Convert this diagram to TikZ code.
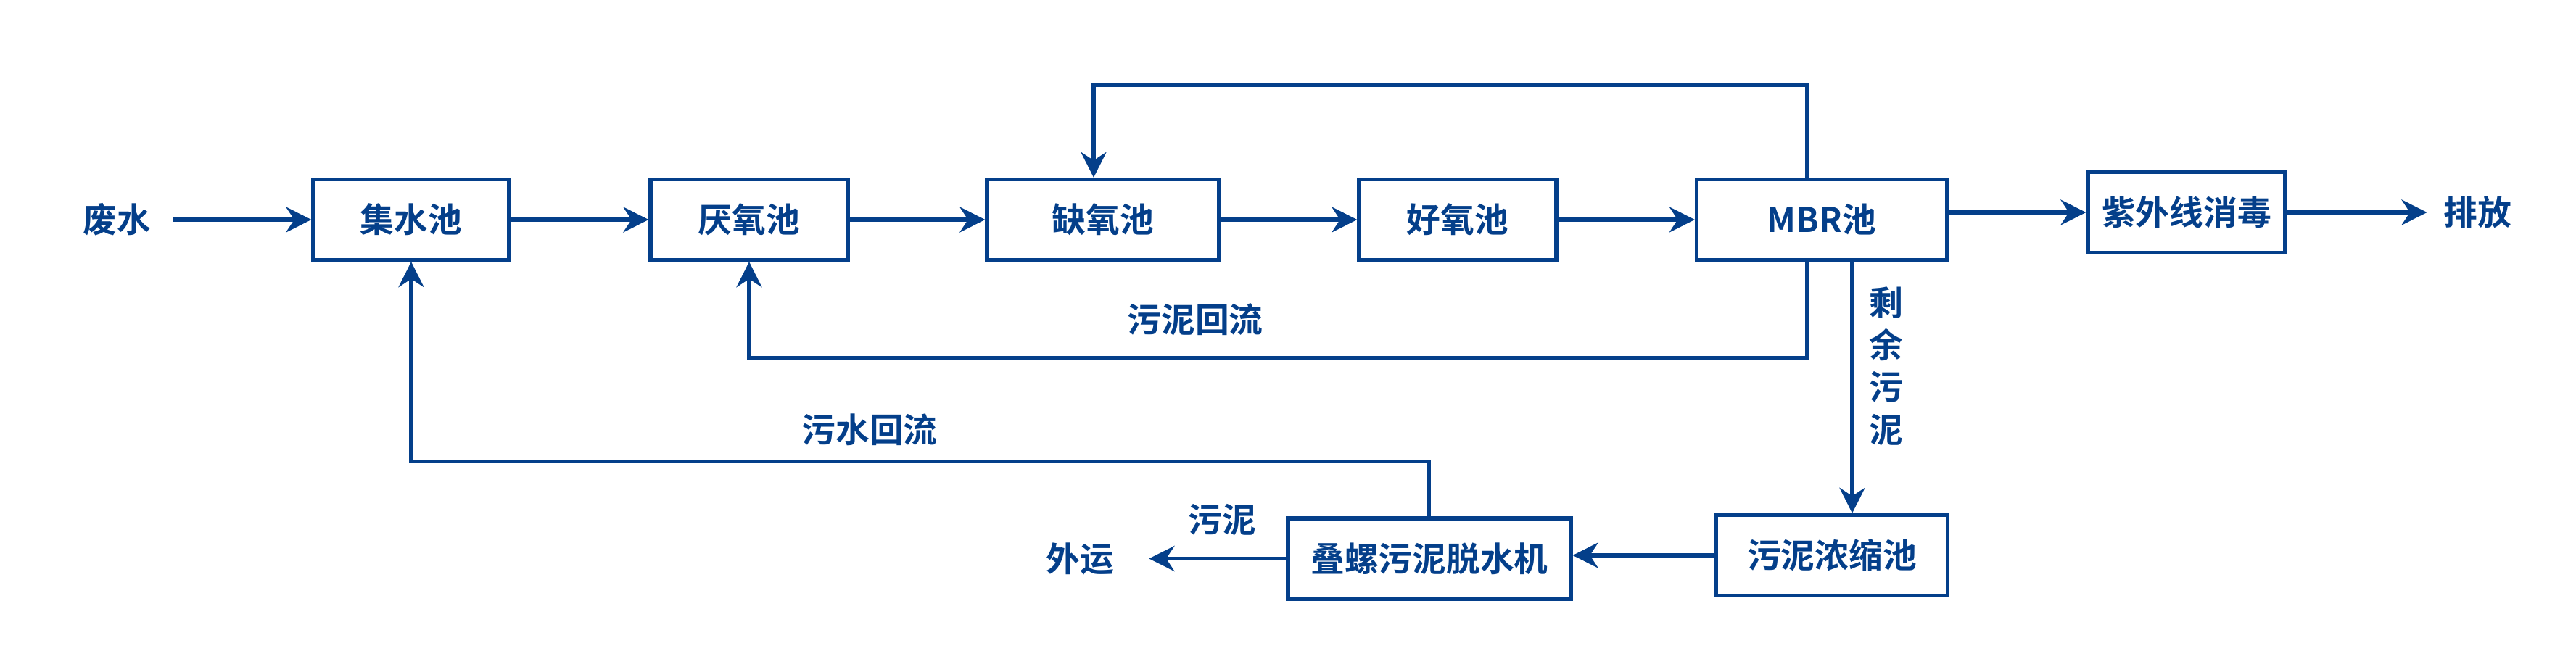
\documentclass[tikz,border=0pt]{standalone}
\usepackage{fontspec}
\setmainfont{Noto Sans CJK SC}[BoldFont={Noto Sans CJK SC Bold}]
\usepackage{tikz}
\usetikzlibrary{arrows.meta,positioning}
\usepackage{xcolor}
\definecolor{mbrblue}{RGB}{4,63,138}
\tikzstyle{tank} = [draw=mbrblue, line width=1.5pt, minimum height=1.11cm, text=mbrblue, font=\fontsize{13.3}{16}\selectfont\bfseries]
\tikzstyle{flowtext} = [inner sep=0pt, text=mbrblue, font=\fontsize{13.3}{16}\selectfont\bfseries]
\tikzstyle{arrow} = [line width=1.5pt, -{Stealth[length=3.5mm,width=3.5mm]}, color=mbrblue]

\begin{document}
\begin{tikzpicture}
\useasboundingbox (0,0) rectangle (35.52,9.08);

% Main line
\node[flowtext] (feishui) at (1.61,6.05) {废水};
\node[tank, minimum width=2.70cm] (jishui) at (5.67,6.05) {集水池};
\node[tank, minimum width=2.72cm] (yanyang) at (10.33,6.05) {厌氧池};
\node[tank, minimum width=3.20cm] (queyang) at (15.21,6.05) {缺氧池};
\node[tank, minimum width=2.72cm] (haoyang) at (20.10,6.05) {好氧池};
\node[tank, minimum width=3.45cm] (mbr) at (25.12,6.05) {MBR池};
\node[tank, minimum width=2.72cm] (uv) at (30.15,6.15) {紫外线消毒};
\node[flowtext] (paifang) at (34.16,6.15) {排放};

\draw[arrow] ([xshift=3mm]feishui.east) -- (jishui.west);
\draw[arrow] (jishui.east) -- (yanyang.west);
\draw[arrow] (yanyang.east) -- (queyang.west);
\draw[arrow] (queyang.east) -- (haoyang.west);
\draw[arrow] (haoyang.east) -- (mbr.west);
\draw[arrow] (uv.west -| mbr.east) -- (uv.west);
\draw[arrow] (uv.east) -- ([xshift=-2.2mm]paifang.west);

% Sludge line
\node[tank, minimum width=3.19cm] (thicken) at (25.26,1.42) {污泥浓缩池};
\node[tank, minimum width=3.90cm] (dewater) at (19.71,1.375) {叠螺污泥脱水机};
\node[flowtext] (waiyun) at (14.89,1.375) {外运};
\node[flowtext] (niout) at (16.85,1.91) {污泥};

\draw[arrow] ([xshift=4.2mm]mbr.south) -- ([xshift=4.2mm]mbr.south |- thicken.north);
\node[flowtext, align=center, font=\fontsize{13.3}{16.6}\selectfont\bfseries] (shengyu) at (26.01,4.03) {剩\\余\\污\\泥};
\draw[arrow] (thicken.west) -- (thicken.west -| dewater.east);
\draw[arrow] (dewater.west) -- ([xshift=4.8mm]waiyun.east);

% Return lines
\draw[arrow] ([xshift=-2mm]mbr.north) -- ++(0,1.275) -| ([xshift=-1.3mm]queyang.north);
\draw[arrow] ([xshift=-2mm]mbr.south) -- ++(0,-1.325) -| (yanyang.south);
\node[flowtext] (nihuiliu) at (16.48,4.67) {污泥回流};
\draw[arrow] ([xshift=-0.1mm]dewater.north) -- ++(0,0.76) -| (jishui.south);
\node[flowtext] (shuihuiliu) at (11.99,3.15) {污水回流};
\end{tikzpicture}
\end{document}
